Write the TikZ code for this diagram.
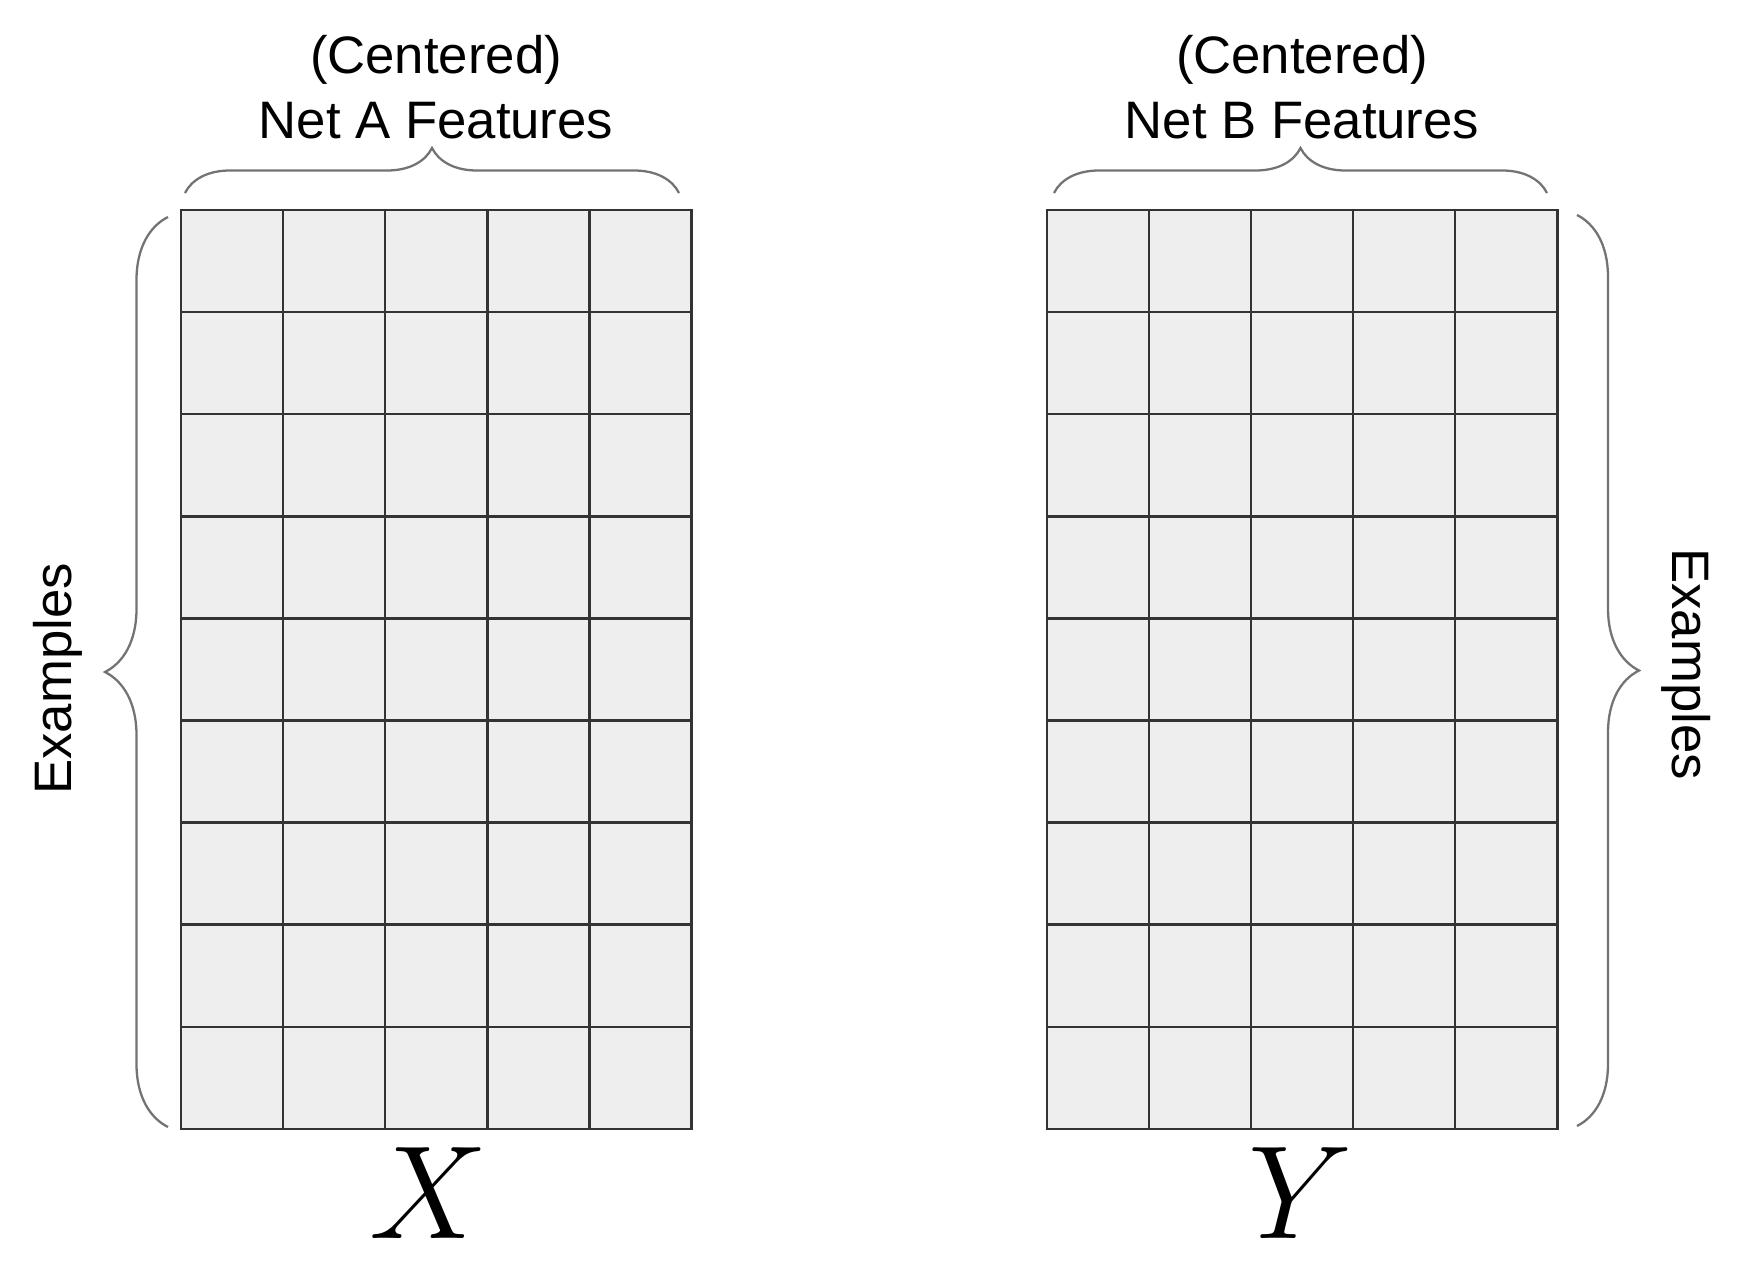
\documentclass[tikz,border=0pt]{standalone}
\usepackage{fontspec}
\setmainfont{Liberation Sans}
\usetikzlibrary{decorations.pathreplacing, positioning}

\tikzset{
  cell/.style={draw=black!80, fill=gray!13, line width=0.7pt,
               minimum size=1.021cm, inner sep=0pt},
  curly/.style={draw=black!55, line width=0.65pt,
                decorate, decoration={brace, amplitude=#1}},
  lbl/.style={font=\fontsize{15}{18}\selectfont, inner sep=0pt},
  mat/.style={font=\Huge, scale=1.52, inner sep=0pt}
}

\begin{document}
\begin{tikzpicture}
  \useasboundingbox (0,0) rectangle (17.63,12.60);

  % Matrix cells (5 features x 9 examples)
  \foreach \c in {0,...,4} {
    \foreach \r in {0,...,8} {
      \node[cell] (x\c\r) at ({1.81+(\c+0.5)*1.021}, {10.50-(\r+0.5)*1.021}) {};
      \node[cell] (y\c\r) at ({10.468+(\c+0.5)*1.021}, {10.50-(\r+0.5)*1.021}) {};
    }
  }

  % Feature braces and titles
  \draw[curly=0.45cm] (1.85,10.67) -- (6.79,10.67);
  \draw[curly=0.45cm] (10.54,10.67) -- (15.47,10.67);
  \node[lbl, anchor=base] (capA) at (4.36, 11.87) {(Centered)};
  \node[lbl, anchor=base] (featA) at (4.36, 11.22) {Net A Features};
  \node[lbl, anchor=base] (capB) at (13.02, 11.87) {(Centered)};
  \node[lbl, anchor=base] (featB) at (13.02, 11.22) {Net B Features};

  % Example braces
  \draw[curly=0.63cm] (1.68,1.33) -- (1.68,10.43);
  \draw[curly=0.62cm] (15.77,10.45) -- (15.77,1.34);
  \node[lbl, rotate=90, anchor=base] (exA) at (0.72, 5.81) {Examples};
  \node[lbl, rotate=-90, anchor=base] (exB) at (16.72, 5.96) {Examples};

  % Matrix names
  \node[mat, anchor=base] (matX) at (4.29, 0.22) {$X$};
  \node[mat, anchor=base] (matY) at (13.01, 0.22) {$Y$};
\end{tikzpicture}
\end{document}
